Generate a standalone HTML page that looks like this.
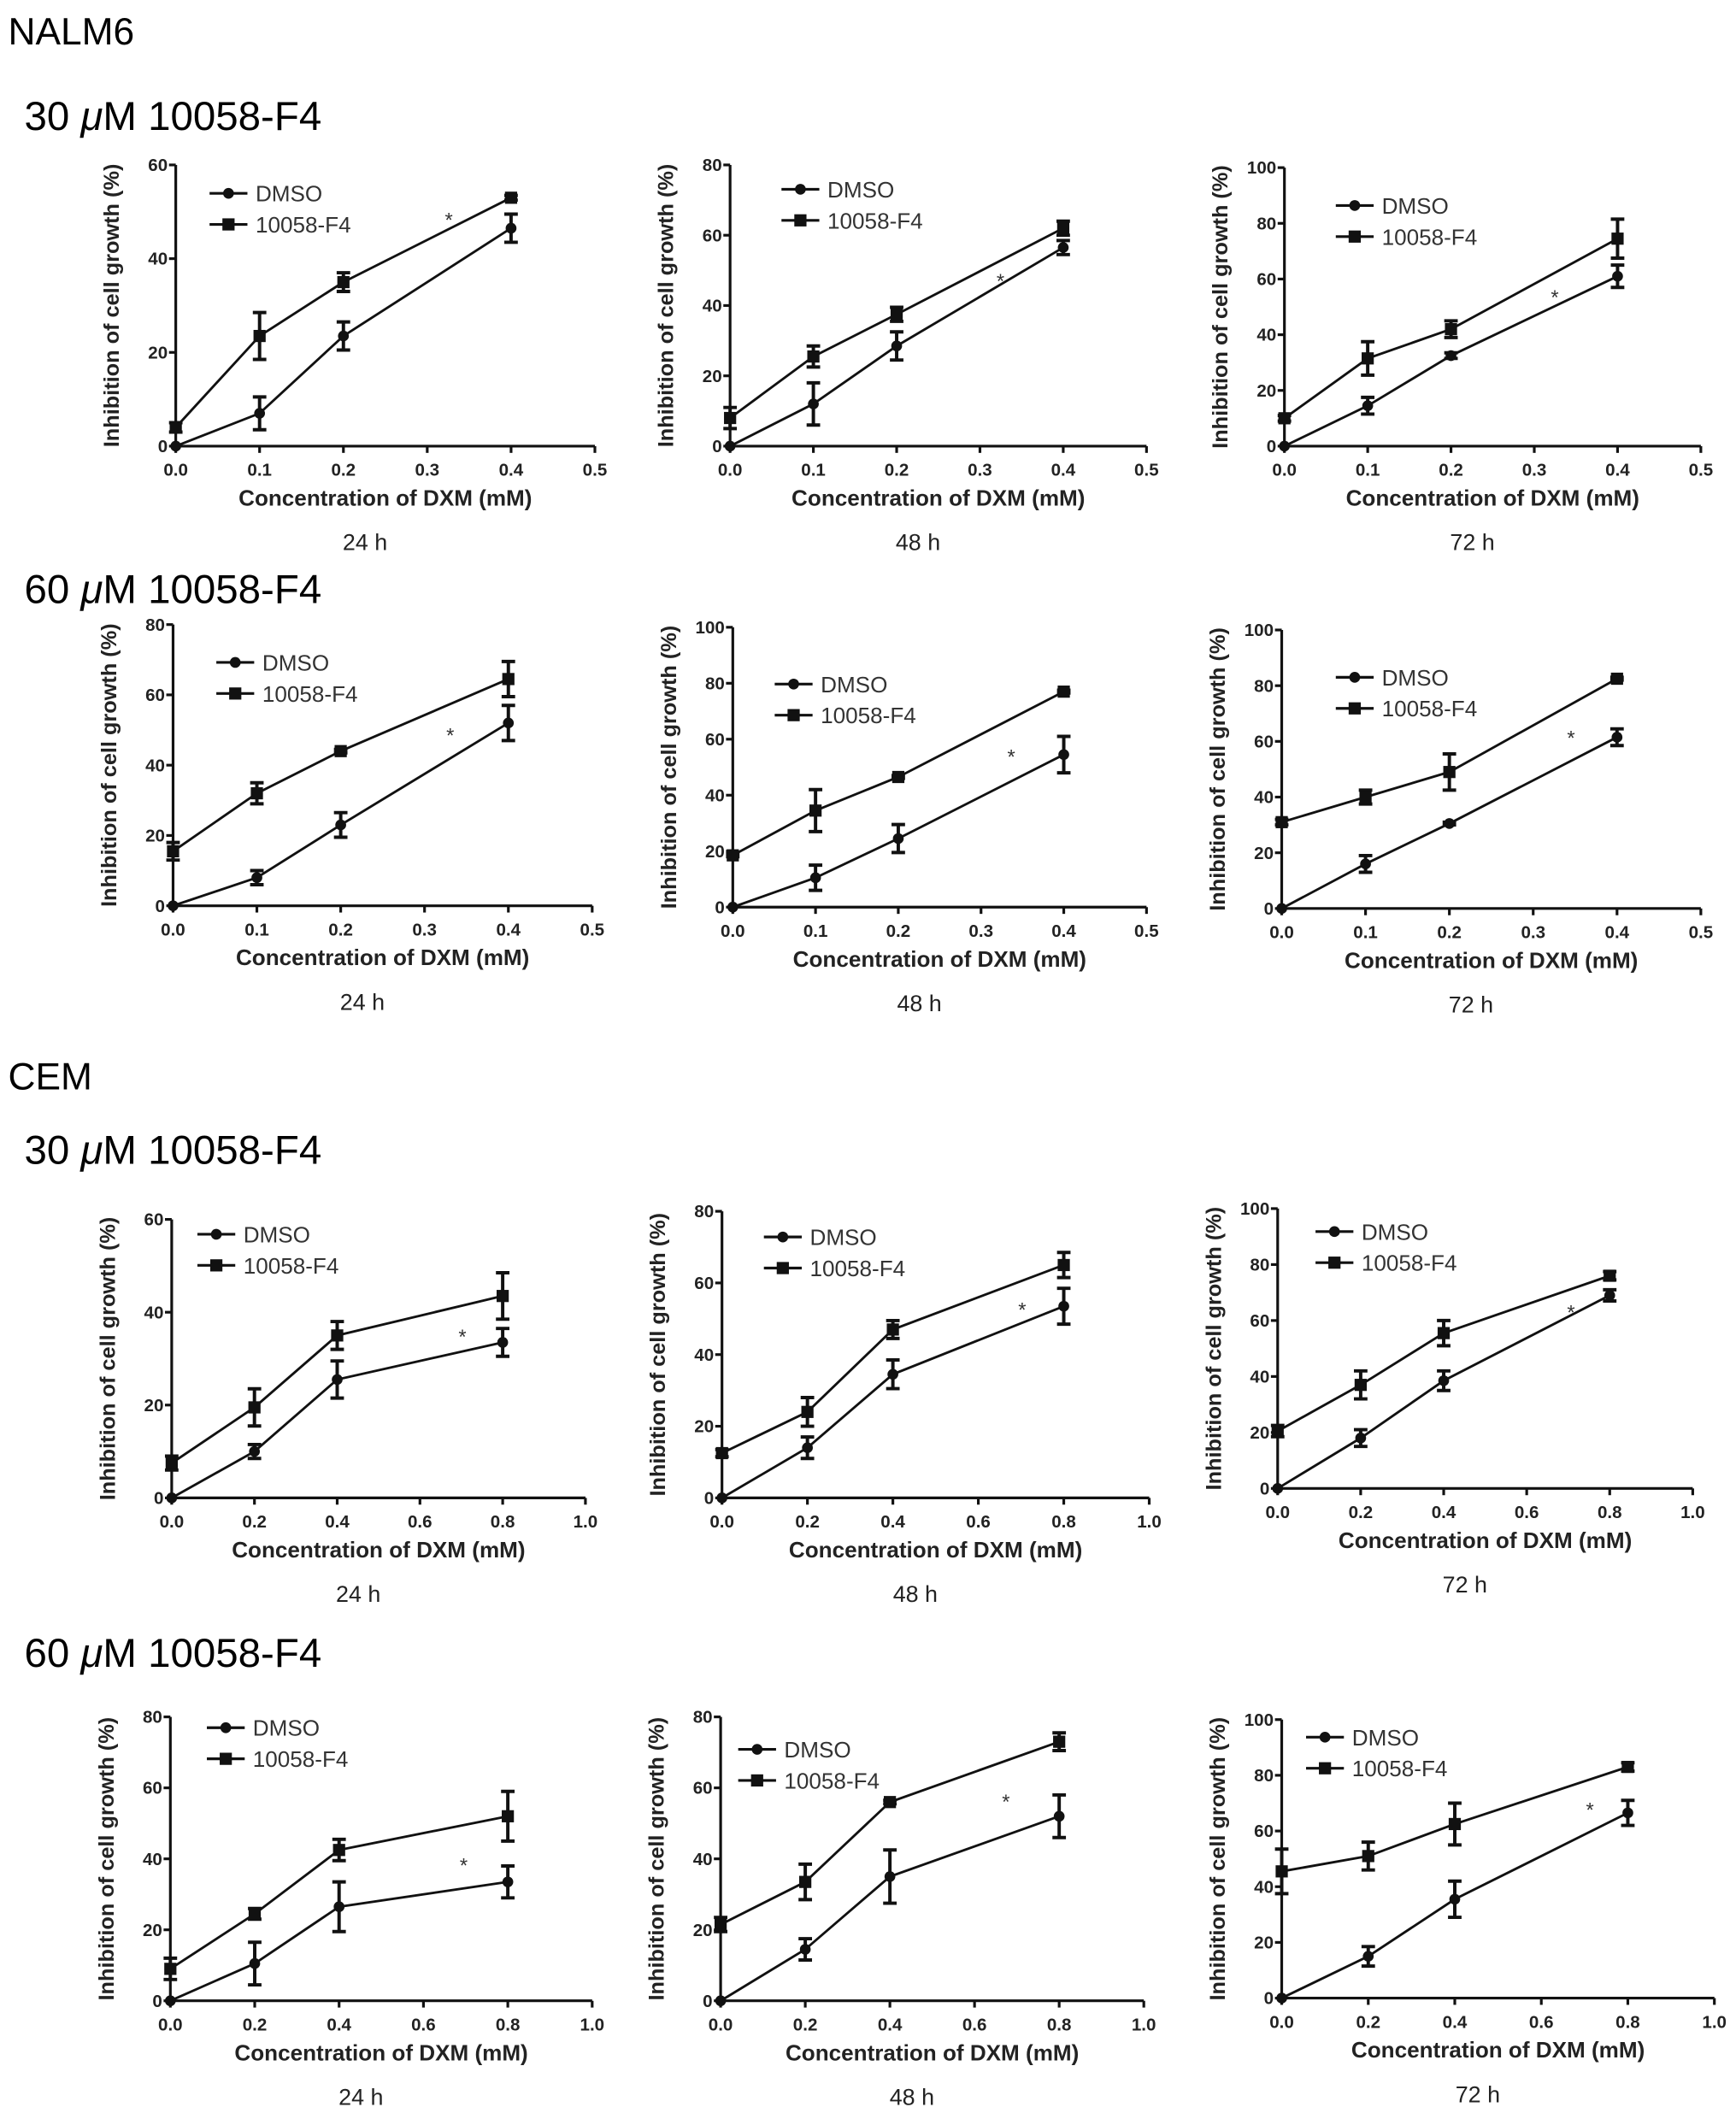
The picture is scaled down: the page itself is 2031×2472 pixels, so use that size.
<!DOCTYPE html>
<html><head><meta charset="utf-8"><style>
html,body{margin:0;padding:0;background:#fff;}
svg{display:block;font-family:"Liberation Sans",Arial,sans-serif;}
</style></head><body>
<svg id="fig" width="2031" height="2472" viewBox="0 0 1284 1563" preserveAspectRatio="none" xmlns="http://www.w3.org/2000/svg">
<text x="6" y="33" font-size="28">NALM6</text>
<text x="18" y="96" font-size="30">30 <tspan font-style="italic">μ</tspan>M 10058-F4</text>
<text x="18" y="446" font-size="30">60 <tspan font-style="italic">μ</tspan>M 10058-F4</text>
<text x="6" y="806" font-size="28">CEM</text>
<text x="18" y="861" font-size="30">30 <tspan font-style="italic">μ</tspan>M 10058-F4</text>
<text x="18" y="1233" font-size="30">60 <tspan font-style="italic">μ</tspan>M 10058-F4</text>
</svg>
<script>
// Data arrays
const xNalm = [0, 0.1, 0.2, 0.4];
const xCem = [0, 0.2, 0.4, 0.8];
const xTicksNalm = ["0.0","0.1","0.2","0.3","0.4","0.5"];
const xTicksCem = ["0.0","0.2","0.4","0.6","0.8","1.0"];
const dmsoValues = [
 [0,7,23.5,46.5],[0,12,28.5,56.5],[0,14.5,32.5,61],
 [0,8,23,52],[0,10.5,24.5,54.5],[0,16,30.5,61.5],
 [0,10,25.5,33.5],[0,14,34.5,53.5],[0,18,38.5,69],
 [0,10.5,26.5,33.5],[0,14.5,35,52],[0,15,35.5,66.5]];
const dmsoErrors = [
 [0,3.5,3,3],[0,6,4,2],[0,3,1,4],
 [0,2,3.5,5],[0,4.5,5,6.5],[0,3,0.5,3],
 [0,1.5,4,3],[0,3,4,5],[0,3,3.5,2],
 [0,6,7,4.5],[0,3,7.5,6],[0,3.5,6.5,4.5]];
const f4Values = [
 [4,23.5,35,53],[8,25.5,37.5,62],[10,31.5,42,74.5],
 [15.5,32,44,64.5],[18.5,34.5,46.5,77],[31,40,49,82.5],
 [7.5,19.5,35,43.5],[12.5,24,47,65],[20.5,37,55.5,76],
 [9,24.5,42.5,52],[21.5,33.5,56,73],[45.5,51,62.5,83]];
const f4Errors = [
 [1,5,2,0.5],[3,3,2,2],[1,6,3,7],
 [2.5,3,0.5,5],[0.5,7.5,0.5,0.5],[1,2.5,6.5,0.5],
 [1.5,4,3,5],[1,4,2.5,3.5],[2,5,4.5,1.5],
 [3,1.5,3,7],[2,5,0.5,2.5],[8,5,7.5,1.5]];
const yMaxes = [60,80,100,80,100,100,60,80,100,80,80,100];
const timeLabels = ["24 h","48 h","72 h"];

// Layout (not data)
const layout = [
 {x0:130,x1:440,y0:330,y1:122,lx:155,ly:143,st:[332,160]},
 {x0:540,x1:848,y0:330,y1:122,lx:578,ly:140,st:[740,205]},
 {x0:950,x1:1258,y0:330,y1:124,lx:988,ly:152,st:[1150,217]},
 {x0:128,x1:438,y0:670,y1:462,lx:160,ly:490,st:[333,541]},
 {x0:542,x1:848,y0:671,y1:464,lx:573,ly:506,st:[748,557]},
 {x0:948,x1:1258,y0:672,y1:466,lx:988,ly:501,st:[1162,543]},
 {x0:127,x1:433,y0:1108,y1:902,lx:146,ly:913,st:[342,986]},
 {x0:534,x1:850,y0:1108,y1:896,lx:565,ly:915,st:[756,966]},
 {x0:945,x1:1252,y0:1101,y1:894,lx:973,ly:911,st:[1162,968]},
 {x0:126,x1:438,y0:1480,y1:1270,lx:153,ly:1278,st:[343,1377]},
 {x0:533,x1:846,y0:1480,y1:1270,lx:546,ly:1294,st:[744,1330]},
 {x0:948,x1:1268,y0:1478,y1:1272,lx:966,ly:1285,st:[1176,1336]}];

const NS="http://www.w3.org/2000/svg";
const svg=document.getElementById('fig');
function mk(tag,attrs,parent){const e=document.createElementNS(NS,tag);for(const k in attrs)e.setAttribute(k,attrs[k]);(parent||svg).appendChild(e);return e;}

layout.forEach((L,i)=>{
  const isCem=i>=6;
  const xs=isCem?xCem:xNalm;
  const xt=isCem?xTicksCem:xTicksNalm;
  const xMax=isCem?1.0:0.5;
  const yMax=yMaxes[i];
  const X=v=>L.x0+(v/xMax)*(L.x1-L.x0);
  const Y=v=>L.y0-(v/yMax)*(L.y0-L.y1);
  const g=mk('g',{});
  
  
  const ya=mk('line',{x1:L.x0,y1:L.y0,x2:L.x0,y2:L.y1,stroke:'#111','stroke-width':2},g);
  
  
  const xa=mk('line',{x1:L.x0,y1:L.y0,x2:L.x1,y2:L.y0,stroke:'#111','stroke-width':2},g);
  
  
  for(let v=0;v<=yMax;v+=20){
    mk('line',{x1:L.x0-5,y1:Y(v),x2:L.x0,y2:Y(v),stroke:'#111','stroke-width':2},g);
    const t=mk('text',{x:L.x0-6,y:Y(v)+4.5,'font-size':13,'font-weight':'bold','text-anchor':'end',fill:'#222'},g);
    t.textContent=v;
    
    
  }
  xt.forEach((lab,k)=>{
    const xv=X(k*xMax/5);
    mk('line',{x1:xv,y1:L.y0,x2:xv,y2:L.y0+5,stroke:'#111','stroke-width':2},g);
    const t=mk('text',{x:xv,y:L.y0+22,'font-size':13,'font-weight':'bold','text-anchor':'middle',fill:'#222'},g);
    t.textContent=lab;
    
    
  });
  const xtit=mk('text',{x:(L.x0+L.x1)/2,y:L.y0+44,'font-size':16.5,'font-weight':'bold','text-anchor':'middle',fill:'#222'},g);
  xtit.textContent='Concentration of DXM (mM)';
  
  
  const cy=(L.y0+L.y1)/2, cx=L.x0-42;
  const ytit=mk('text',{x:cx,y:cy,'font-size':16,'font-weight':'bold','text-anchor':'middle',fill:'#222',transform:`rotate(-90 ${cx} ${cy})`},g);
  ytit.textContent='Inhibition of cell growth (%)';
  
  
  const tl=mk('text',{x:(L.x0+L.x1)/2-15,y:L.y0+77,'font-size':17,'text-anchor':'middle',fill:'#222'},g);
  tl.textContent=timeLabels[i%3];
  
  
  [[dmsoValues[i],dmsoErrors[i],'circle','dmso'],[f4Values[i],f4Errors[i],'square','f4']].forEach(([vals,errs,shape,nm])=>{
    const pts=vals.map((v,k)=>X(xs[k])+','+Y(v)).join(' ');
    const pl=mk('polyline',{points:pts,fill:'none',stroke:'#111','stroke-width':1.8},g);
    
    
    vals.forEach((v,k)=>{
      const px=X(xs[k]),py=Y(v),e=errs[k];
      if(e>0){
        const eb=mk('path',{d:`M${px},${Y(v+e)}V${Y(v-e)}M${px-5},${Y(v+e)}H${px+5}M${px-5},${Y(v-e)}H${px+5}`,stroke:'#111','stroke-width':2.5,fill:'none'},g);
        
        
      }
      let m;
      if(shape==='circle') m=mk('circle',{cx:px,cy:py,r:4,fill:'#111'},g);
      else m=mk('rect',{x:px-4.5,y:py-4.5,width:9,height:9,fill:'#111'},g);
      
      
    });
  });
  [['DMSO','circle',L.ly],['10058-F4','square',L.ly+23]].forEach(([lab,shape,ly])=>{
    const lg=mk('g',{},g);
    
    
    mk('line',{x1:L.lx,y1:ly,x2:L.lx+28,y2:ly,stroke:'#111','stroke-width':2},lg);
    if(shape==='circle') mk('circle',{cx:L.lx+14,cy:ly,r:4,fill:'#111'},lg);
    else mk('rect',{x:L.lx+9.5,y:ly-4.5,width:9,height:9,fill:'#111'},lg);
    const t=mk('text',{x:L.lx+34,y:ly+6,'font-size':16.5,fill:'#333'},lg);
    t.textContent=lab;
  });
  const st=mk('text',{x:L.st[0],y:L.st[1]+8,'font-size':15,'text-anchor':'middle',fill:'#333'},g);
  st.textContent='*';
  
  
});
</script>
</body></html>
